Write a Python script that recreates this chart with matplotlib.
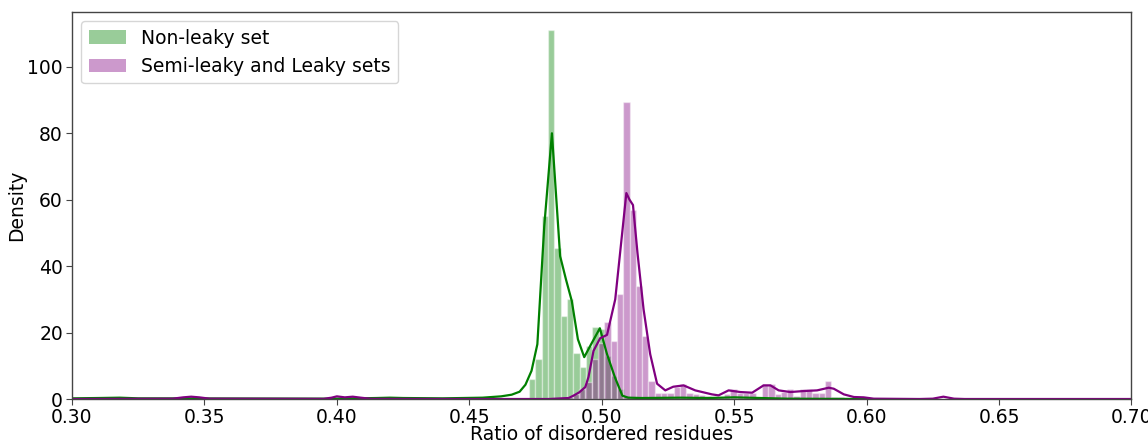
import numpy as np
import matplotlib
matplotlib.use("Agg")
import matplotlib.pyplot as plt
from matplotlib.patches import Patch

# ---------------- data ----------------
bin_width = 0.00238

# Non-leaky set histogram (density)
green_first_center = 0.4738
green_heights = [6, 12, 55, 111, 45.5, 25, 30, 14, 9.6, 16, 21.6, 21.2, 13, 7, 3, 1]

# Semi-leaky and Leaky sets histogram (density)
purple_first_center = 0.48788
purple_heights = [0.5, 1.5, 3, 5, 12, 17, 23.3, 17.5, 31.7, 89.5, 57, 34, 19, 5.5,
                  1.9, 1.9, 1.9, 3.7, 4.4, 1.9, 1.5, 1.3, 1.0, 0.7, 0.5, 1.5, 3,
                  1.9, 1.9, 1.9, 0.7, 4.4, 4.4, 1.5, 2, 3, 1, 3, 3, 1.9, 1.9, 5.3,
                  0.7, 0.5]

# KDE curves
green_kde_x = [0.300, 0.310, 0.318, 0.325, 0.400, 0.415, 0.420, 0.425, 0.440, 0.455,
               0.462, 0.466, 0.4690, 0.4712, 0.4735, 0.4757, 0.4783, 0.4812, 0.4843,
               0.4865, 0.4887, 0.4910, 0.4934, 0.4960, 0.4993, 0.5020, 0.5050, 0.5078,
               0.5100, 0.5150, 0.5300, 0.5400, 0.5500, 0.5600, 0.5700, 0.6000]
green_kde_y = [0.2, 0.3, 0.4, 0.2, 0.1, 0.3, 0.4, 0.3, 0.2, 0.4,
               0.8, 1.3, 2.2, 4.3, 8.5, 16.5, 52, 80, 43,
               36, 29.5, 18, 12.6, 16.5, 21.3, 13.5, 6.5, 1.0,
               0.4, 0.3, 0.4, 0.3, 0.5, 0.3, 0.1, 0.0]

purple_kde_x = [0.300, 0.320, 0.338, 0.342, 0.345, 0.348, 0.352, 0.395, 0.398, 0.400,
                0.403, 0.406, 0.409, 0.413, 0.450, 0.480, 0.4875, 0.4893, 0.4915,
                0.4938, 0.4950, 0.4969, 0.4994, 0.5020, 0.5051, 0.5093, 0.5105, 0.5118,
                0.5135, 0.5158, 0.5183, 0.5209, 0.5240, 0.5270, 0.5309, 0.5353, 0.5416,
                0.5441, 0.5479, 0.5523, 0.5568, 0.5611, 0.5637, 0.5668, 0.5712, 0.5763,
                0.5813, 0.5857, 0.5876, 0.5914, 0.5952, 0.5989, 0.6027, 0.6200, 0.6250,
                0.6290, 0.6330, 0.6370, 0.7000]
purple_kde_y = [0.0, 0.05, 0.1, 0.5, 0.7, 0.5, 0.1, 0.05, 0.4, 0.8,
                0.5, 0.7, 0.4, 0.05, 0.0, 0.0, 0.3, 1.0, 2.0,
                3.6, 6.6, 14.5, 18.3, 19.3, 30, 62, 60, 58.4,
                44, 27, 13.5, 4.6, 2.6, 3.7, 4.1, 2.6, 1.4,
                1.1, 2.6, 2.1, 1.9, 4.1, 4.1, 2.6, 2.1, 2.4,
                2.6, 3.4, 3.1, 1.4, 0.6, 0.5, 0.1, 0.0, 0.1,
                0.7, 0.1, 0.0, 0.0]

labels = ["Non-leaky set", "Semi-leaky and Leaky sets"]
x_ticks = [0.30, 0.35, 0.40, 0.45, 0.50, 0.55, 0.60, 0.65, 0.70]
y_ticks = [0, 20, 40, 60, 80, 100]

# ---------------- plot ----------------
plt.rcParams['font.family'] = ['DejaVu Sans']
plt.rcParams['font.size'] = 13.5

fig = plt.figure(figsize=(11.48, 4.43), dpi=100)
ax = fig.add_axes([0.0627, 0.0993, 0.9229, 0.8743])

green_centers = green_first_center + bin_width * np.arange(len(green_heights))
purple_centers = purple_first_center + bin_width * np.arange(len(purple_heights))

ax.bar(green_centers, green_heights, width=bin_width, color='green', alpha=0.4,
       edgecolor='white', linewidth=1.0)
ax.plot(green_kde_x, green_kde_y, color='green', lw=1.6)
ax.bar(purple_centers, purple_heights, width=bin_width, color='purple', alpha=0.4,
       edgecolor='white', linewidth=1.0)
ax.plot(purple_kde_x, purple_kde_y, color='purple', lw=1.6)

ax.set_xlim(0.30, 0.70)
ax.set_ylim(0, 116.6)
ax.set_xticks(x_ticks)
ax.set_xticklabels([f"{t:.2f}" for t in x_ticks])
ax.set_yticks(y_ticks)
ax.set_xlabel("Ratio of disordered residues", labelpad=-1.5)
ax.set_ylabel("Density", labelpad=1)
for s in ax.spines.values():
    s.set_color('#444444')
    s.set_linewidth(1.0)
ax.tick_params(colors='#444444', labelcolor='black', length=4, pad=2.5)

handles = [Patch(facecolor='green', alpha=0.4, edgecolor='none'),
           Patch(facecolor='purple', alpha=0.4, edgecolor='none')]
ax.legend(handles, labels, loc='upper left', frameon=True, fancybox=True)

fig.savefig("out.png", dpi=100)
